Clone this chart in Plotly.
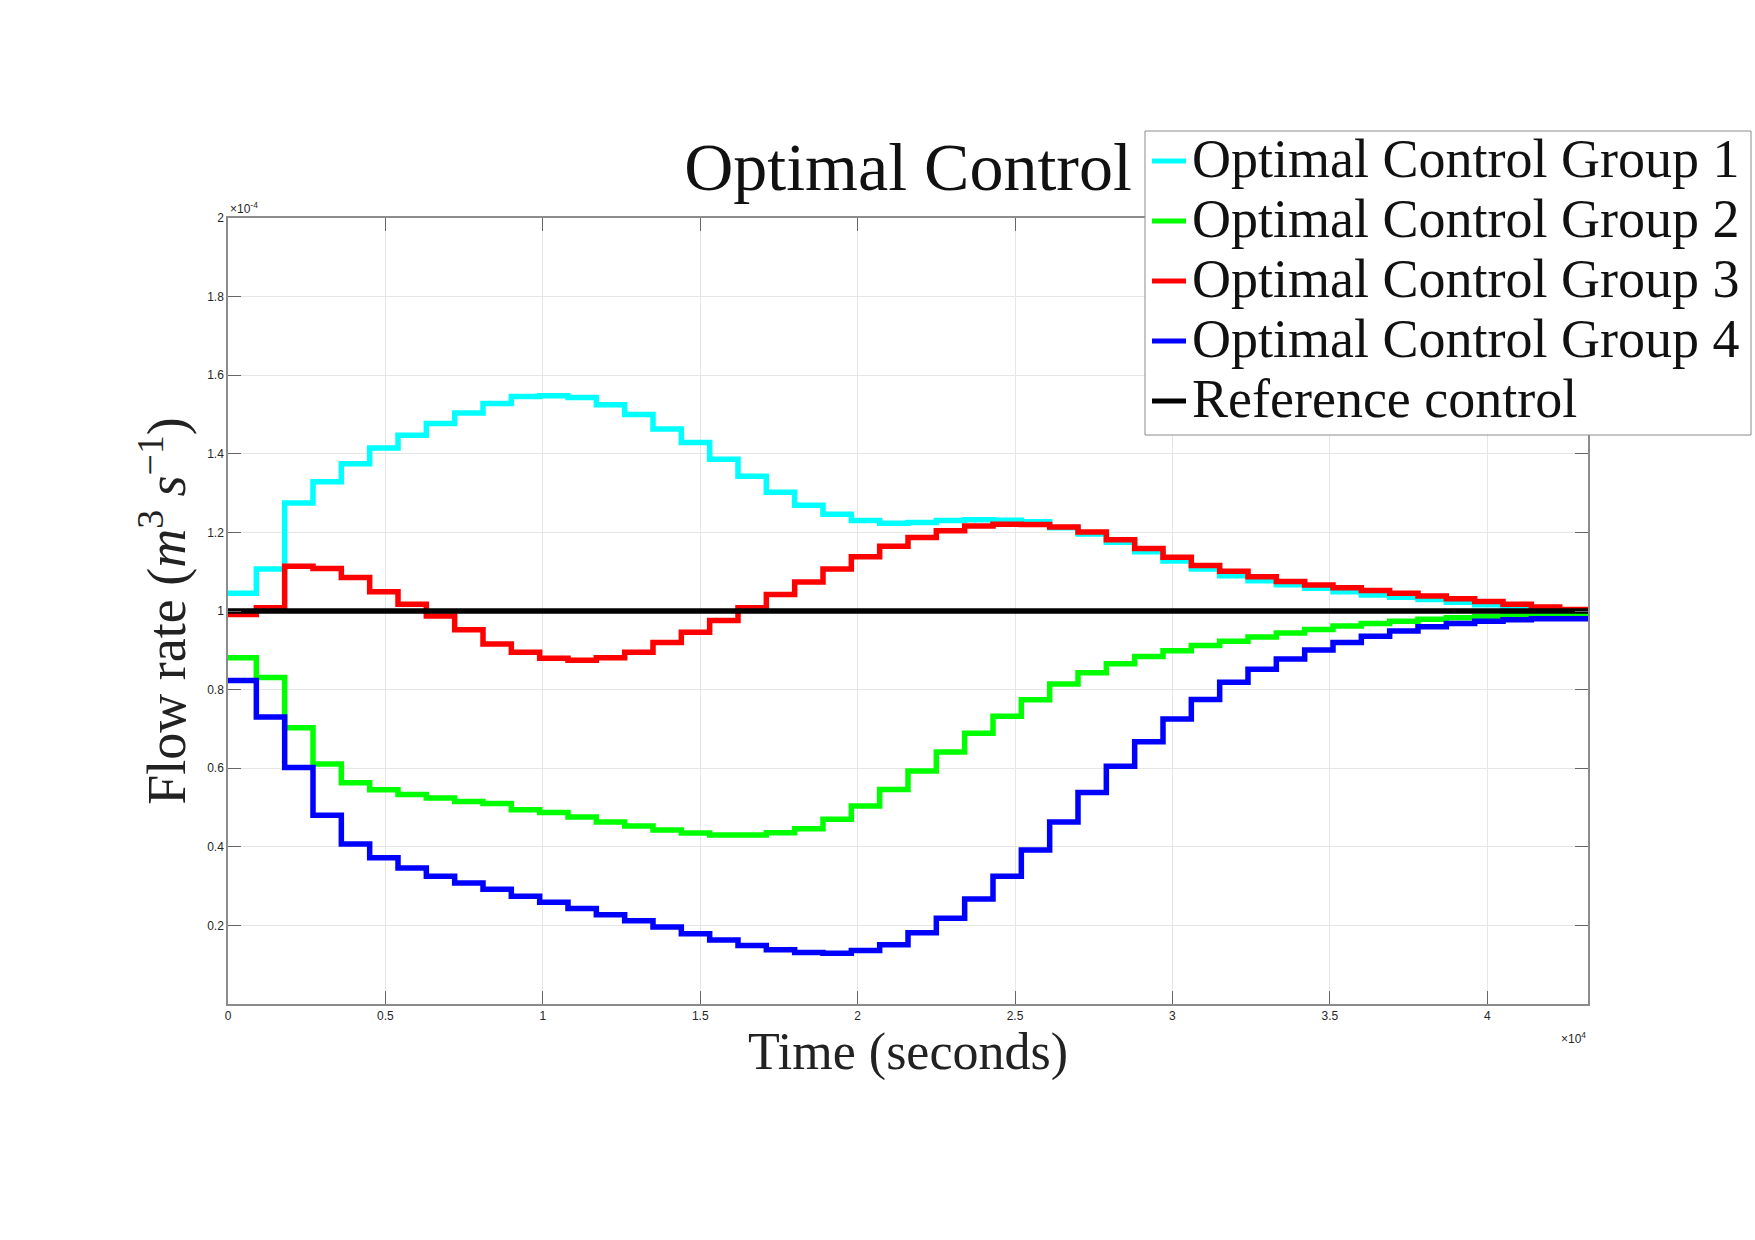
import plotly.graph_objects as go

# ---------------- data (flow rate in units of 1e-4 m^3/s) ----------------
step_seconds = 900
time_start = [k * step_seconds for k in range(48)]
time_end = 43200

group1 = [1.045, 1.107, 1.275, 1.329, 1.375, 1.415, 1.447, 1.477, 1.504, 1.528,
          1.546, 1.548, 1.543, 1.525, 1.500, 1.463, 1.429, 1.386, 1.343, 1.302,
          1.269, 1.246, 1.230, 1.223, 1.225, 1.230, 1.232, 1.231, 1.227, 1.212,
          1.196, 1.175, 1.151, 1.127, 1.107, 1.090, 1.077, 1.067, 1.058, 1.049,
          1.041, 1.035, 1.029, 1.022, 1.016, 1.009, 1.003, 0.996]

group2 = [0.881, 0.831, 0.703, 0.611, 0.563, 0.545, 0.533, 0.524, 0.515, 0.510,
          0.494, 0.487, 0.476, 0.463, 0.453, 0.443, 0.435, 0.430, 0.430, 0.436,
          0.446, 0.470, 0.504, 0.546, 0.593, 0.641, 0.689, 0.732, 0.774, 0.814,
          0.843, 0.866, 0.884, 0.899, 0.912, 0.923, 0.934, 0.944, 0.953, 0.962,
          0.968, 0.974, 0.979, 0.983, 0.986, 0.989, 0.990, 0.990]

group3 = [0.991, 1.008, 1.114, 1.108, 1.085, 1.049, 1.017, 0.987, 0.952, 0.916,
          0.895, 0.880, 0.875, 0.881, 0.895, 0.920, 0.946, 0.976, 1.008, 1.042,
          1.074, 1.107, 1.138, 1.165, 1.187, 1.204, 1.216, 1.221, 1.220, 1.214,
          1.201, 1.181, 1.159, 1.137, 1.116, 1.101, 1.087, 1.075, 1.066, 1.059,
          1.052, 1.045, 1.038, 1.031, 1.024, 1.017, 1.010, 1.004]

group4 = [0.823, 0.730, 0.602, 0.480, 0.407, 0.372, 0.346, 0.325, 0.308, 0.292,
          0.274, 0.259, 0.243, 0.227, 0.212, 0.196, 0.179, 0.163, 0.149, 0.138,
          0.131, 0.129, 0.136, 0.151, 0.181, 0.218, 0.267, 0.325, 0.392, 0.463,
          0.538, 0.605, 0.667, 0.725, 0.775, 0.819, 0.852, 0.878, 0.901, 0.920,
          0.936, 0.949, 0.960, 0.968, 0.974, 0.978, 0.980, 0.980]

reference_time = [0, 43200]
reference_control = [1.0, 1.0]

series_names = ["Optimal Control Group 1", "Optimal Control Group 2",
                "Optimal Control Group 3", "Optimal Control Group 4",
                "Reference control"]
series_colors = ["#00FFFF", "#00FF00", "#FF0000", "#0000FF", "#000000"]

x_tick_vals = [0, 5000, 10000, 15000, 20000, 25000, 30000, 35000, 40000]
x_tick_text = ["0", "0.5", "1", "1.5", "2", "2.5", "3", "3.5", "4"]
y_tick_vals = [0.2, 0.4, 0.6, 0.8, 1.0, 1.2, 1.4, 1.6, 1.8, 2.0]
y_tick_text = ["0.2", "0.4", "0.6", "0.8", "1", "1.2", "1.4", "1.6", "1.8", "2"]

SERIF = "Liberation Serif, Times New Roman, serif"
SANS = "Liberation Sans, Arial, Helvetica, sans-serif"

# plot-area geometry in page pixels
W, H = 1755, 1240
PL, PR, PT, PB = 228, 1588, 218, 1004


def px_to_paper_x(px):
    return (px - PL) / (PR - PL)


def px_to_paper_y(py):
    return (PB - py) / (PB - PT)


fig = go.Figure()
stair_x = time_start + [time_end]
for name, color, vals in zip(series_names[:4], series_colors[:4],
                             [group1, group2, group3, group4]):
    fig.add_trace(go.Scatter(
        x=stair_x, y=vals + [vals[-1]], mode="lines", name=name,
        line=dict(color=color, width=5.5, shape="hv"), showlegend=False,
    ))
fig.add_trace(go.Scatter(
    x=reference_time, y=reference_control, mode="lines", name=series_names[4],
    line=dict(color=series_colors[4], width=5.5), showlegend=False,
))

axis_common = dict(
    showline=True, linecolor="#8c8c8c", linewidth=1.5, mirror="ticks",
    ticks="inside", ticklen=13, tickcolor="#666666", tickwidth=1,
    showgrid=True, gridcolor="#e6e6e6", gridwidth=1, zeroline=False,
    tickfont=dict(family=SANS, size=12, color="#262626"),
)

fig.update_layout(
    width=W, height=H,
    paper_bgcolor="white", plot_bgcolor="white",
    margin=dict(l=PL, r=W - PR, t=PT, b=H - PB),
    title=dict(text="Optimal Control", x=(PL + PR) / 2 / W, xanchor="center",
               y=1 - 166 / H, yanchor="middle",
               font=dict(family=SERIF, size=68, color="#111111")),
    xaxis=dict(range=[0, 43200], tickvals=x_tick_vals, ticktext=x_tick_text,
               title=dict(text="Time (seconds)", standoff=8,
                          font=dict(family=SERIF, size=52, color="#222222")),
               **axis_common),
    yaxis=dict(range=[0, 2], tickvals=y_tick_vals, ticktext=y_tick_text,
               title=dict(text="Flow rate (<i>m</i><sup>3</sup> <i>s</i><sup>\u22121</sup>)",
                          standoff=4,
                          font=dict(family=SERIF, size=54, color="#222222")),
               **axis_common),
    showlegend=False,
)

# ---- legend box (drawn to match the reference's compact row spacing) ----
box_l, box_r, box_t, box_b = 1145, 1751, 131, 435
fig.add_shape(type="rect", xref="paper", yref="paper",
              x0=px_to_paper_x(box_l), x1=px_to_paper_x(box_r),
              y0=px_to_paper_y(box_b), y1=px_to_paper_y(box_t),
              line=dict(color="#8c8c8c", width=1), fillcolor="white", layer="above")
row_centers = [161, 221, 281, 341, 401]
for name, color, yc in zip(series_names, series_colors, row_centers):
    fig.add_shape(type="line", xref="paper", yref="paper",
                  x0=px_to_paper_x(1152), x1=px_to_paper_x(1186),
                  y0=px_to_paper_y(yc), y1=px_to_paper_y(yc),
                  line=dict(color=color, width=5), layer="above")
    fig.add_annotation(text=name, xref="paper", yref="paper",
                       x=px_to_paper_x(1190), y=px_to_paper_y(yc - 2),
                       xanchor="left", yanchor="middle", showarrow=False,
                       font=dict(family=SERIF, size=54, color="#111111"))

fig.add_annotation(text="\u00d710<sup>-4</sup>", xref="paper", yref="paper",
                   x=0.0, y=1.0, xanchor="left", yanchor="bottom", showarrow=False,
                   font=dict(family=SANS, size=12, color="#262626"))
fig.add_annotation(text="\u00d710<sup>4</sup>", xref="paper", yref="paper",
                   x=1.0, y=-0.030, xanchor="right", yanchor="top", showarrow=False,
                   font=dict(family=SANS, size=12, color="#262626"))

fig.write_html("out.html")
